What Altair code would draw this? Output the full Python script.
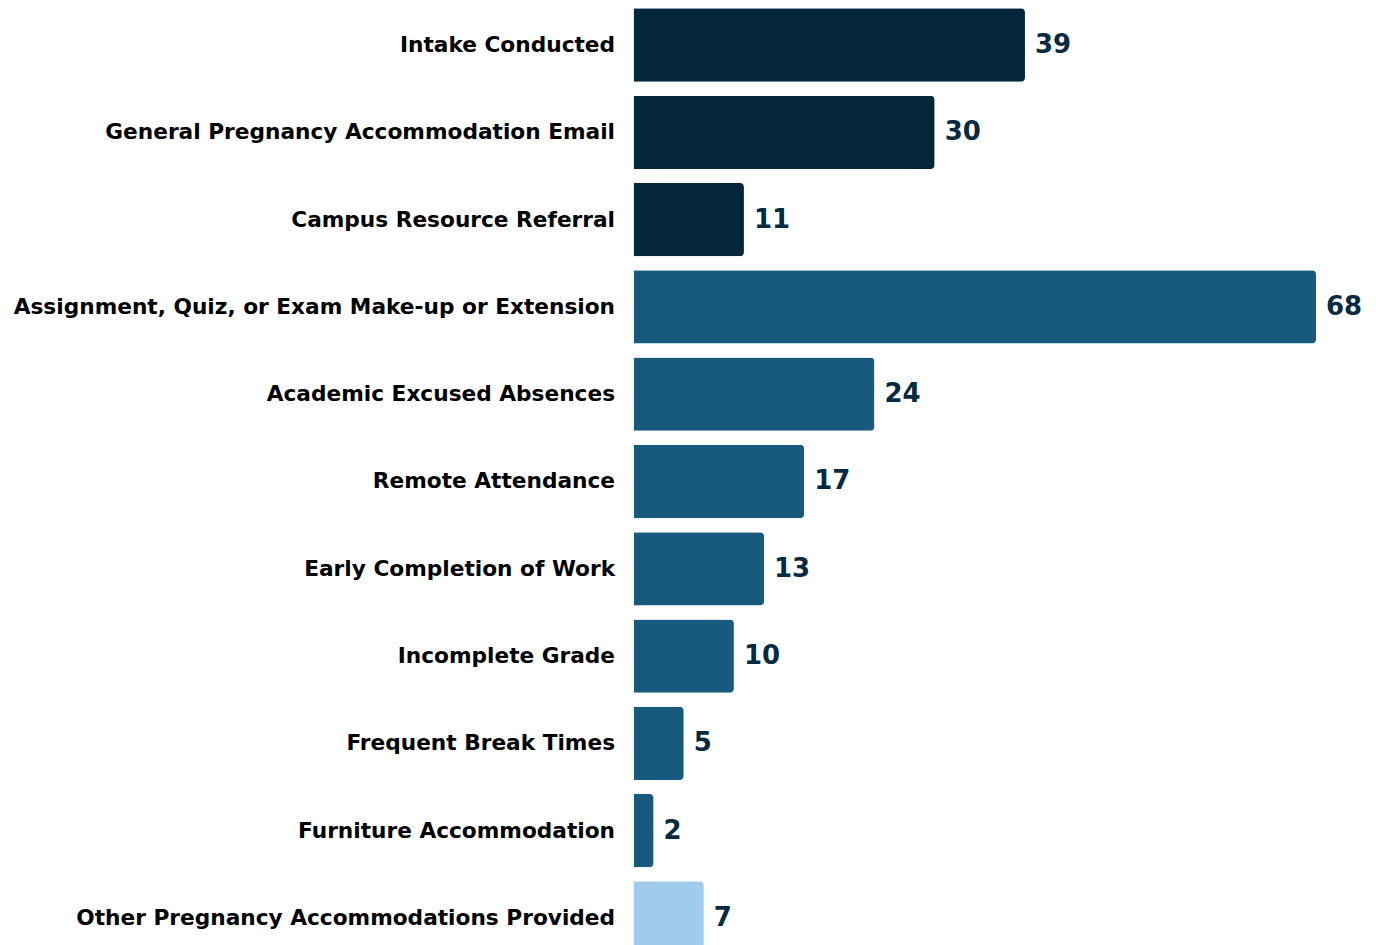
import altair as alt
import pandas as pd

categories = [
    "Intake Conducted",
    "General Pregnancy Accommodation Email",
    "Campus Resource Referral",
    "Assignment, Quiz, or Exam Make-up or Extension",
    "Academic Excused Absences",
    "Remote Attendance",
    "Early Completion of Work",
    "Incomplete Grade",
    "Frequent Break Times",
    "Furniture Accommodation",
    "Other Pregnancy Accommodations Provided",
]
values = [39, 30, 11, 68, 24, 17, 13, 10, 5, 2, 7]
groups = ["Intake", "Intake", "Intake",
          "Academic", "Academic", "Academic", "Academic", "Academic", "Academic", "Academic",
          "Other"]
group_names = ["Intake", "Academic", "Other"]
group_colors = ["#04263A", "#185A7D", "#A0CBEC"]

df = pd.DataFrame({"category": categories, "value": values, "group": groups})

FONT = "DejaVu Sans"

y_enc = alt.Y(
    "category:N",
    sort=categories,
    scale=alt.Scale(paddingInner=0.16, paddingOuter=0),
    axis=alt.Axis(
        title=None, domain=False, ticks=False, labelFont=FONT, labelFontSize=21.7,
        labelFontWeight="bold", labelColor="#000000", labelPadding=19,
        labelLimit=700, minExtent=626, maxExtent=626,
    ),
)
x_enc = alt.X("value:Q", scale=alt.Scale(domain=[0, 68], nice=False, zero=True), axis=None)

bars = alt.Chart(df).mark_bar(cornerRadiusEnd=4).encode(
    y=y_enc,
    x=x_enc,
    color=alt.Color("group:N", scale=alt.Scale(domain=group_names, range=group_colors), legend=None),
)

labels = alt.Chart(df).mark_text(
    align="left", baseline="middle", dx=10, font=FONT, fontSize=26, fontWeight="bold", color="#062A3F"
).encode(
    y=alt.Y("category:N", sort=categories),
    x="value:Q",
    text="value:Q",
)

chart = (bars + labels).properties(
    width=683, height=947,
    padding={"left": 0, "top": 0, "right": 5, "bottom": 5},
).configure_view(stroke=None)

chart.save("out.html", embed_options={"renderer": "svg", "actions": False})
